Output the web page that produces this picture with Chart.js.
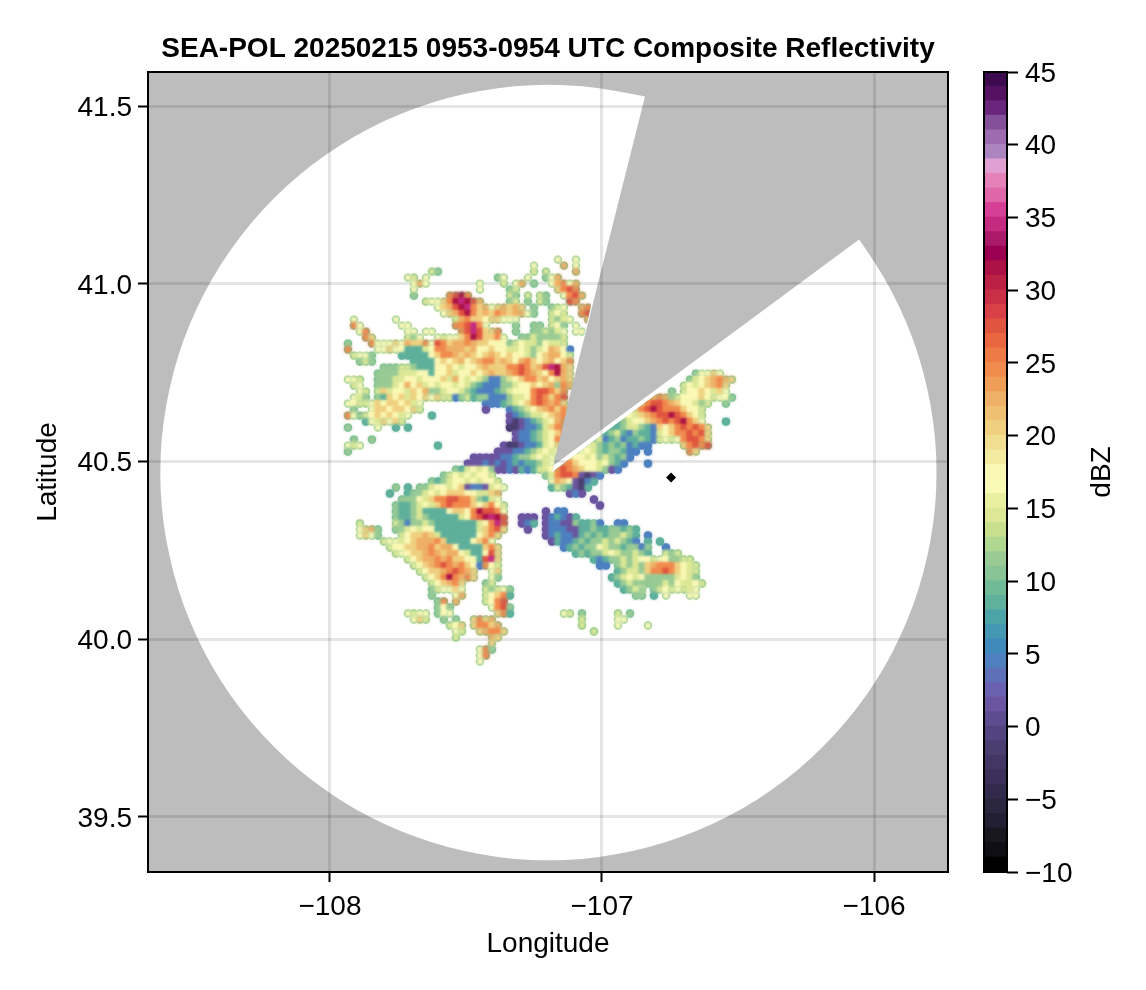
<!DOCTYPE html>
<html lang="en">

<head>
    <meta charset="UTF-8">
    <title>SEA-POL Composite Reflectivity</title>
    <script src="https://cdn.jsdelivr.net/npm/chart.js"></script>
    <style>
        body {
            margin: 0;
            background: #fff;
        }

        canvas {
            position: absolute;
            top: 0;
        }
    </style>
</head>

<body>
    <canvas id="radar" width="1146" height="990" style="left:0"></canvas>
    <canvas id="colorbar" width="186" height="990" style="left:960px"></canvas>

    <script>
        const titleText = 'SEA-POL 20250215 0953-0954 UTC Composite Reflectivity';
        const lonTicks = [-108, -107, -106];
        const lonTickLabels = ['−108', '−107', '−106'];
        const latTicks = [39.5, 40, 40.5, 41, 41.5];
        const latTickLabels = ['39.5', '40.0', '40.5', '41.0', '41.5'];
        const dbzTicks = [-10, -5, 0, 5, 10, 15, 20, 25, 30, 35, 40, 45];
        const dbzTickLabels = ['−10', '−5', '0', '5', '10', '15', '20', '25', '30', '35', '40', '45'];

        // one colour per dBZ step, from -10 upward
        const dbzLevels = [-10, -9, -8, -7, -6, -5, -4, -3, -2, -1, 0, 1, 2, 3, 4, 5, 6, 7, 8, 9, 10, 11, 12, 13, 14, 15, 16, 17,
            18, 19, 20, 21, 22, 23, 24, 25, 26, 27, 28, 29, 30, 31, 32, 33, 34, 35, 36, 37, 38, 39, 40, 41, 42, 43, 44];
        const dbzColors = ['#000000', '#0f0e14', '#18161f', '#221f34', '#2a2640', '#322a4c', '#3c305a', '#443664', '#4a3e70',
            '#534480', '#5e4c90', '#6b55a0', '#6a60b0', '#5d70b8', '#4e80c0', '#3f8abb', '#4598b2', '#4da4a8', '#5fb09c',
            '#70ba98', '#88c496', '#9acb95', '#b0d890', '#c8e08e', '#dce896', '#e8f0a0', '#f8fab5', '#faf8b5', '#f5eba0',
            '#f2de90', '#f0d080', '#f0c072', '#eeb066', '#f09d58', '#f18a4d', '#ee7a45', '#e96640', '#e05540', '#d74147',
            '#c93047', '#bb2145', '#ac1245', '#9b0050', '#aa1a68', '#c42a80', '#d63f96', '#e066aa', '#e481b8', '#e0a0d2',
            '#ac85c0', '#9c6bb0', '#85509a', '#6a257c', '#551263', '#3d0a50'];

        // radar coverage ring, from the end of one edge of the blocked sector round to the other
        const ringLon = [-106.055, -106.027, -105.960, -105.903, -105.855, -105.818, -105.791, -105.774, -105.769, -105.774,
            -105.791, -105.818, -105.855, -105.903, -105.960, -106.027, -106.103, -106.187, -106.279, -106.378, -106.483,
            -106.594, -106.709, -106.827, -106.949, -107.072, -107.197, -107.322, -107.445, -107.567, -107.685, -107.801,
            -107.911, -108.016, -108.115, -108.207, -108.291, -108.367, -108.434, -108.491, -108.539, -108.576, -108.603,
            -108.620, -108.625, -108.620, -108.603, -108.576, -108.539, -108.491, -108.434, -108.367, -108.291, -108.207,
            -108.115, -108.016, -107.911, -107.801, -107.685, -107.567, -107.445, -107.322, -107.197, -107.072, -106.949,
            -106.842];
        const ringLat = [41.125, 41.095, 41.015, 40.931, 40.843, 40.752, 40.659, 40.564, 40.469, 40.374,
            40.279, 40.186, 40.095, 40.007, 39.923, 39.842, 39.767, 39.697, 39.632, 39.574, 39.523,
            39.479, 39.443, 39.414, 39.394, 39.381, 39.377, 39.381, 39.394, 39.414, 39.443, 39.479,
            39.523, 39.574, 39.632, 39.697, 39.767, 39.842, 39.923, 40.007, 40.095, 40.186, 40.279,
            40.374, 40.469, 40.564, 40.659, 40.752, 40.843, 40.931, 41.015, 41.095, 41.171, 41.241,
            41.306, 41.364, 41.415, 41.459, 41.495, 41.524, 41.544, 41.557, 41.561, 41.557, 41.544,
            41.527];
        const apexLon = -107.184, apexLat = 40.486;
        // blocked sector as the echoes see it: a few pixels wider, which leaves the thin white gap
        const gapLon = [-106.860, -107.184, -106.060];
        const gapLat = [41.527, 40.470, 41.113];

        const radarLon = [-106.746];
        const radarLat = [40.455];

        // reflectivity on a coarse lon/lat grid
        const cellLon0 = -107.934, cellLonStep = 0.02206;
        const cellLat0 = 41.085, cellLatStep = 0.01688;
        const echoCodes = { q: -2, p: 1, b: 4, c: 6, t: 8, g: 11, l: 14, y: 17, h: 20, o: 22, O: 24, r: 27, m: 31, M: 34, v: 41 };
        // one line per latitude row, "column:codes"
        const echoRows = [
            '',
            '35:y 38:y',
            '31:y 36:o 38:y',
            '14:lg 31:l 33:l 38:o',
            '10:yl 13:y 25:gy 30:y 33:gyo',
            '11:yo 13:y 22:y 26:l 28:yo 31:g 34:yoOyo',
            '11:y 22:y 27:gl 35:hOrO',
            '11:g 17:OrmO 27:lg 30:l 32:lg 36:yOro',
            '13:lyy 16:hOmMmro 27:g 28:l 30:g 32:lg 37:rO',
            '15:yh 17:ormMOh 23:oyhohoh 31:g 34:gly 39:oO',
            '16:yhormOh 23:ohOohoo 30:yg 34:lyl 39:Or',
            '1:y 8:y 18:loOhhy 24:hhyy 28:y 34:lgly 40:o',
            '1:O 2:y 9:yy 18:OOrMOy 28:g 31:gg 34:lyg 38:y',
            '2:yO 10:yy 13:yy 19:OrMrhh 25:O 28:g 31:ggl 34:gly 38:yy',
            '3:Oh 10:lgy 15:ylyyh 20:OmrhhOy 29:gglggg 35:gl',
            '0:g 4:Oyyyhyohh 13:Oy 15:rOhooOohhyyy 27:glyllgyl 35:ll',
            '0:O 5:yyhyy 10:ttt 13:ly 15:OOooohoyyhyyllylglyohy 37:b',
            '1:lyyg 9:ttttt 14:yhOOohohyhohyhyylgyhooyl',
            '2:glg 11:tttt 15:yhyhoyhoOOhohyoOhyhoyhO',
            '6:gggllg 12:ttt 15:yyhylyyhohhhOOrOhorMmoh',
            '5:ggggll 11:lyy 14:ty 16:yhlyyhyhohhoOrOohyOmoh 58:gyyhy',
            '0:yyl 5:ggglly 11:yly 14:yyhloylylg 24:bbg 27:lyhOOh 33:oyhoh 57:glyhoOoh',
            '1:ly 5:ggglyo 11:yhly 15:lyylylgtb 24:bbgg 28:lyyhyho 35:gOo 56:lylyhoOh',
            '2:yl 5:lhly 9:ylhyo 14:gg 16:lyylgtb 23:bbtgl 28:yyyOrrOhO 54:g 56:lyyhylhy',
            '1:ylg 5:gthyhlhyhyhll 18:b 19:gltggbb 26:bglly 31:OrOhOr 50:hoOo 54:glyyyhyly 63:yg',
            '0:y 1:yl 3:lyhyhhyhly 23:bbb 26:tgly 30:hOrOoOh 46:g 49:hOrrOohyy 58:lgl 63:g',
            '1:g 4:yhhyhhyhl 23:p 27:btgly 32:hoOhOh 46:glh 49:OrmrOOOhyyl',
            '0:O 1:yg 3:lyhyhyly 14:t 27:pbtgl 32:lyhoOh 45:gly 48:lhoOrrmrOhyl',
            '3:tylhyh 9:l 27:pqpbtg 33:lyoO 44:gtgly 49:yhoOrOrmOhy 63:t',
            '0:g 5:y 8:t 10:t 27:qqpbbt 33:lhOO 43:gttgl 48:lgtbhyhOrOrOh',
            '28:pbbt 32:glyhOh 42:gtgltbgttb 52:lyhOOrOrh',
            '1:g 4:g 28:pbbt 32:glyOh 41:glbtgbttgtb 52:lylyOrrOh',
            '0:yl 2:y 15:t 26:pqqpbbt 33:lyh 40:ylgtgtgbtb 50:b 56:hOrOr',
            '0:g 25:pppbbtg 32:lyly 38:lyylgtggtbb 50:b 57:Oh',
            '21:pppppbbtg 30:glyly 37:hyylyglgtgb',
            '20:pppbpbpbtbttg 33:ly 36:OOhyyylygtb 50:b',
            '18:gtlylygp 26:pbptbtl 33:ly 35:OrOohyylg 44:pb',
            '16:glylylyyl 33:glOrrOpqpb',
            '14:gtglyylylyyl 34:yohypqbt',
            '8:g 10:t 12:gglyylyh 20:pbbp 24:lyy 34:tlgtpqt',
            '7:t 10:t 11:gglylyhhhyyllho 37:pbp',
            '9:gggyl 14:hOOrrOOh 22:gtly 41:p',
            '8:gttgly 14:lhOrOOOhy 23:hOyl 42:p',
            '8:gttglt 14:ttt 17:yhhyOmrrOy 33:p 35:bb',
            '8:gttgl 13:gtttttl 20:yOrmMmr 29:ppp 33:pbtbp 38:t',
            '2:l 8:lgb 11:gglg 15:ttttttt 22:lyOMr 29:pbt 33:pbbppgttgb 45:bb',
            '2:yho 5:g 8:ggly 12:lyy 15:ttttttt 22:lhOrh 30:p 33:pbbbppttgttggtgt',
            '2:yhy 5:g 9:lyhhohl 16:tttttt 22:yhOh 33:pbtbbptgtgtgglgt 50:b',
            '6:lyyly 11:hoooOh 17:tttt 21:yhOy 34:ptbbtgtgglglgtb 50:t 52:t',
            '7:lyyh 11:hooOhoo 18:y 19:tttt 23:hOh 36:btgtggylggtggbg 53:b',
            '8:lyyh 12:hoOohoo 19:yl 21:tt 23:yrh 38:tgtgglylgglgt 53:lgl',
            '10:lyh 13:ooOoOh 19:hy 21:yt 23:rMh 41:tbtgglgly 50:ylyy 54:ggll',
            '11:lyh 14:oOrOoOh 21:yb 23:Oyl 42:bb 45:glglghoOOOhyll',
            '12:lyhhoOrOoh 24:yh 45:tgllghOOrOhyll',
            '13:lyhOmOoOh 24:yg 44:tglylyggggglylg',
            '14:lyhoOh 23:gl 45:tglggggglgyllyl',
            '14:g 15:lyyhy 23:lglyg 46:tgly 49:g 51:gly 54:lyl 57:ly',
            '14:g 18:yo 23:lyhOt 48:gg 51:t 53:y 57:yy',
            '15:gO 18:o 23:lyOr',
            '15:gyg 24:yOrg',
            '10:ylyy 15:gyy 25:hOt 36:yl 39:g 45:l 47:g',
            '11:yhl 16:g 18:g 21:hOho 39:l 45:yy',
            '17:lyh 21:hOOho 39:l 45:y 50:y',
            '18:yl 22:hoOOh 41:l',
            '18:l 24:oh',
            '24:h',
            '22:yOg',
            '22:yO',
            '22:y'
        ];

        const echoCells = [];
        const filled = new Set();
        echoRows.forEach((row, j) => {
            if (!row) return;
            row.split(' ').forEach(seg => {
                const [start, codes] = seg.split(':');
                [...codes].forEach((c, k) => {
                    const col = Number(start) + k;
                    filled.add(col + ',' + j);
                    echoCells.push({ x: cellLon0 + col * cellLonStep, y: cellLat0 - j * cellLatStep, dbz: echoCodes[c], col, row: j });
                });
            });
        });
        const colorOf = dbz => dbzColors[dbzLevels.indexOf(dbz)];
        const isEdge = c => !(filled.has((c.col - 1) + ',' + c.row) && filled.has((c.col + 1) + ',' + c.row)
            && filled.has(c.col + ',' + (c.row - 1)) && filled.has(c.col + ',' + (c.row + 1)));

        const fontName = '"Liberation Sans", Arial, sans-serif';

        const framePlugin = {
            id: 'frame',
            afterDraw(chart) {
                const a = chart.chartArea, ctx = chart.ctx;
                ctx.save();
                ctx.strokeStyle = '#000';
                ctx.lineWidth = 2;
                ctx.strokeRect(a.left, a.top, a.width, a.height);
                ctx.restore();
            }
        };

        // smooth curve along the ring, straight edges for the blocked sector
        function traceCoverage(chart, ctx, sectorLon, sectorLat) {
            const { x, y } = chart.scales;
            const px = i => x.getPixelForValue(ringLon[i]);
            const py = i => y.getPixelForValue(ringLat[i]);
            const last = ringLon.length - 1;
            ctx.beginPath();
            ctx.moveTo(px(0), py(0));
            for (let i = 1; i < last - 1; i++) {
                ctx.quadraticCurveTo(px(i), py(i), (px(i) + px(i + 1)) / 2, (py(i) + py(i + 1)) / 2);
            }
            ctx.quadraticCurveTo(px(last - 1), py(last - 1), px(last), py(last));
            sectorLon.forEach((lon, i) => ctx.lineTo(x.getPixelForValue(lon), y.getPixelForValue(sectorLat[i])));
            ctx.closePath();
        }

        // gray no-data background and white coverage go under the grid lines
        const coveragePlugin = {
            id: 'coverage',
            beforeDraw(chart) {
                const a = chart.chartArea, ctx = chart.ctx;
                ctx.save();
                ctx.fillStyle = '#bdbdbd';
                ctx.fillRect(a.left, a.top, a.width, a.height);
                traceCoverage(chart, ctx, [apexLon], [apexLat]);
                ctx.fillStyle = '#fff';
                ctx.fill();
                ctx.restore();
            },
            beforeDatasetDraw(chart, args) {
                const label = chart.data.datasets[args.index].label;
                if (label === 'radar') return;
                const ctx = chart.ctx;
                ctx.save();
                traceCoverage(chart, ctx, gapLon, gapLat);
                ctx.clip();
                if (label === 'reflectivity') ctx.filter = 'blur(1.8px)';
            },
            afterDatasetDraw(chart, args) {
                if (chart.data.datasets[args.index].label !== 'radar') chart.ctx.restore();
            }
        };

        new Chart(document.getElementById('radar'), {
            type: 'scatter',
            plugins: [coveragePlugin, framePlugin],
            data: {
                datasets: [
                    {
                        label: 'radar',
                        data: radarLon.map((x, i) => ({ x, y: radarLat[i] })),
                        pointStyle: 'rectRot',
                        pointRadius: 5,
                        pointBackgroundColor: '#000',
                        pointBorderWidth: 0,
                        order: 1
                    },
                    {
                        label: 'reflectivity',
                        data: echoCells,
                        pointStyle: 'rect',
                        pointRadius: 4.7,
                        pointBackgroundColor: echoCells.map(c => colorOf(c.dbz)),
                        pointBorderWidth: 0,
                        order: 2
                    },
                    {
                        label: 'reflectivity edge',
                        data: echoCells,
                        pointStyle: echoCells.map(c => isEdge(c) ? 'circle' : 'rect'),
                        pointRadius: echoCells.map(c => isEdge(c) ? 4.2 : 5),
                        pointBackgroundColor: echoCells.map(c => isEdge(c) ? colorOf(Math.min(c.dbz, 9)) : colorOf(c.dbz)),
                        pointBorderWidth: 0,
                        order: 3
                    }
                ]
            },
            options: {
                responsive: false,
                animation: false,
                layout: { padding: { right: 198 } },
                plugins: {
                    legend: { display: false },
                    tooltip: { enabled: false },
                    title: {
                        display: true,
                        text: titleText,
                        fullSize: false,
                        color: '#000',
                        font: { family: fontName, size: 28, weight: 'bold' },
                        padding: { top: 32, bottom: 6.4 }
                    }
                },
                scales: {
                    x: {
                        type: 'linear',
                        min: -108.669,
                        max: -105.728,
                        afterFit: s => { s.height = 118; },
                        afterBuildTicks: s => { s.ticks = lonTicks.map(value => ({ value })); },
                        grid: { color: 'rgba(0,0,0,0.1)', lineWidth: 3, tickColor: '#000', tickLength: 10, tickWidth: 2 },
                        border: { display: false },
                        ticks: {
                            color: '#000',
                            maxRotation: 0,
                            padding: 8,
                            font: { family: fontName, size: 28 },
                            callback: v => lonTickLabels[lonTicks.indexOf(v)]
                        },
                        title: {
                            display: true,
                            text: 'Longitude',
                            color: '#000',
                            font: { family: fontName, size: 28 },
                            padding: { top: 8, bottom: 29 }
                        }
                    },
                    y: {
                        type: 'linear',
                        min: 39.345,
                        max: 41.596,
                        afterFit: s => { s.width = 148; },
                        afterBuildTicks: s => { s.ticks = latTicks.map(value => ({ value })); },
                        grid: { color: 'rgba(0,0,0,0.1)', lineWidth: 3, tickColor: '#000', tickLength: 10, tickWidth: 2 },
                        border: { display: false },
                        ticks: {
                            color: '#000',
                            padding: 6,
                            labelOffset: 2,
                            font: { family: fontName, size: 28 },
                            callback: v => latTickLabels[latTicks.indexOf(v)]
                        },
                        title: {
                            display: true,
                            text: 'Latitude',
                            color: '#000',
                            font: { family: fontName, size: 28 },
                            padding: { top: 31, bottom: 4 }
                        }
                    }
                }
            }
        });

        const dbzLabelPlugin = {
            id: 'dbzLabel',
            afterDraw(chart) {
                const ctx = chart.ctx;
                ctx.save();
                ctx.translate(142, 472);
                ctx.rotate(-Math.PI / 2);
                ctx.font = '28px ' + fontName;
                ctx.fillStyle = '#000';
                ctx.textAlign = 'center';
                ctx.textBaseline = 'middle';
                ctx.fillText('dBZ', 0, 0);
                ctx.restore();
            }
        };

        new Chart(document.getElementById('colorbar'), {
            type: 'bar',
            plugins: [framePlugin, dbzLabelPlugin],
            data: {
                labels: ['dBZ'],
                datasets: dbzLevels.map((lo, i) => ({
                    data: [[lo, lo + 1.03]],
                    backgroundColor: dbzColors[i],
                    borderWidth: 0,
                    grouped: false,
                    barPercentage: 1,
                    categoryPercentage: 1
                }))
            },
            options: {
                responsive: false,
                animation: false,
                layout: { padding: { left: 24, top: 72, bottom: 118 } },
                plugins: {
                    legend: { display: false },
                    tooltip: { enabled: false }
                },
                scales: {
                    x: { display: false },
                    y: {
                        position: 'right',
                        min: -10,
                        max: 45,
                        afterFit: s => { s.width = 139; },
                        afterBuildTicks: s => { s.ticks = dbzTicks.map(value => ({ value })); },
                        grid: { drawOnChartArea: false, tickColor: '#000', tickLength: 11, tickWidth: 2 },
                        border: { display: false },
                        ticks: {
                            color: '#000',
                            padding: 7,
                            labelOffset: 2,
                            font: { family: fontName, size: 28 },
                            callback: v => dbzTickLabels[dbzTicks.indexOf(v)]
                        }
                    }
                }
            }
        });
    </script>
</body>

</html>
